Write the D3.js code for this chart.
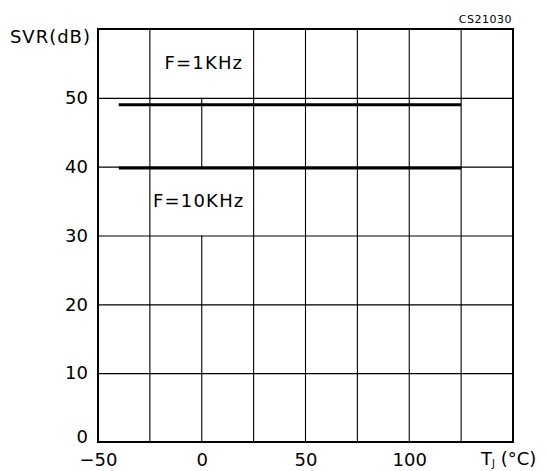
<!DOCTYPE html>
<html lang="en">
<head>
    <title>SVR vs Tj</title>
    <meta charset="utf-8">
    <script src="https://d3js.org/d3.v7.min.js"></script>
    <style>
        body { margin: 0; background: #fff; }
        svg text { font-family: "DejaVu Sans", sans-serif; fill: #000; }
    </style>
</head>
<body>
    <div id="container1"></div>
    <script>
        // Chart data
        const xTicks = [-50, -25, 0, 25, 50, 75, 100, 125, 150];
        const xLabels = [-50, 0, 50, 100];
        const yTicks = [0, 10, 20, 30, 40, 50, 60];
        const yLabels = [0, 10, 20, 30, 40, 50];
        const temps = [-40, 125];
        const svr1k = [49, 49];
        const svr10k = [39.8, 39.8];
        const seriesNames = ["F=1KHz", "F=10KHz"];

        // Chart dimensions
        const width = 548, height = 471;
        const margin = { top: 29, right: 35, bottom: 29, left: 98 };
        const innerW = width - margin.left - margin.right;
        const innerH = height - margin.top - margin.bottom;

        const svg = d3.select("#container1")
            .append("svg")
            .attr("width", width)
            .attr("height", height);

        const g = svg.append("g")
            .attr("transform", `translate(${margin.left},${margin.top})`);

        // Scales
        const xScale = d3.scaleLinear().domain([-50, 150]).range([0, innerW]);
        const yScale = d3.scaleLinear().domain([0, 60]).range([innerH, 0]);

        // Vertical grid (the 0 °C line is broken where the labels sit)
        xTicks.slice(1, -1).forEach(t => {
            let segs = [[0, 60]];
            if (t === 0) segs = [[0, 30], [40, 50]];
            segs.forEach(s => {
                g.append("line")
                    .attr("x1", xScale(t)).attr("x2", xScale(t))
                    .attr("y1", yScale(s[0])).attr("y2", yScale(s[1]))
                    .attr("stroke", "#000").attr("stroke-width", 1.1);
            });
        });

        // Horizontal grid
        g.append("g")
            .call(d3.axisLeft(yScale).tickValues(yTicks.slice(1, -1)).tickSize(-innerW).tickFormat(""))
            .call(a => a.select(".domain").remove())
            .selectAll("line")
            .attr("stroke", "#000").attr("stroke-width", 1.1);

        // Frame
        g.append("rect")
            .attr("x", 0).attr("y", 0)
            .attr("width", innerW).attr("height", innerH)
            .attr("fill", "none")
            .attr("stroke", "#000").attr("stroke-width", 2);

        // Axis labels
        const yAxis = g.append("g")
            .call(d3.axisLeft(yScale).tickValues(yLabels).tickSize(0).tickPadding(10))
            .call(a => a.select(".domain").remove());
        yAxis.selectAll("text")
            .style("font-size", "18px")
            .attr("font-family", "DejaVu Sans")
            .attr("dy", "0.32em");
        yAxis.selectAll(".tick").filter(d => d === 0).select("text").attr("dy", "0.05em");

        const xAxis = g.append("g")
            .attr("transform", `translate(0,${innerH})`)
            .call(d3.axisBottom(xScale).tickValues(xLabels).tickSize(0).tickPadding(11).tickFormat(d => d < 0 ? "\u2212" + Math.abs(d) : d))
            .call(a => a.select(".domain").remove());
        xAxis.selectAll("text")
            .style("font-size", "18px")
            .attr("font-family", "DejaVu Sans");

        // Data lines
        const line = d3.line()
            .x((d, i) => xScale(temps[i]))
            .y(d => yScale(d));

        [svr1k, svr10k].forEach(s => {
            g.append("path")
                .datum(s)
                .attr("d", line)
                .attr("fill", "none")
                .attr("stroke", "#000")
                .attr("stroke-width", 3);
        });

        // Series labels
        g.append("text")
            .attr("x", xScale(-18))
            .attr("y", yScale(55) + 6)
            .style("font-size", "18px")
            .style("letter-spacing", "1.2px")
            .text(seriesNames[0]);

        g.append("text")
            .attr("x", xScale(-23.5))
            .attr("y", yScale(35) + 6)
            .style("font-size", "18px")
            .style("letter-spacing", "1.2px")
            .text(seriesNames[1]);

        // Axis titles
        svg.append("text")
            .attr("x", 91)
            .attr("y", 43)
            .attr("text-anchor", "end")
            .style("font-size", "18px")
            .style("letter-spacing", "1px")
            .text("SVR(dB)");

        const tj = svg.append("text")
            .attr("x", 481)
            .attr("y", 465)
            .style("font-size", "18px")
            .style("white-space", "pre");
        tj.append("tspan").text("T");
        tj.append("tspan").attr("dy", 2).style("font-size", "10px").text("J");
        tj.append("tspan").attr("dy", -2).text(" (\u00b0C)");

        svg.append("text")
            .attr("x", 512)
            .attr("y", 23)
            .attr("text-anchor", "end")
            .style("font-size", "11px")
            .style("letter-spacing", "0.5px")
            .text("CS21030");
    </script>
</body>
</html>
